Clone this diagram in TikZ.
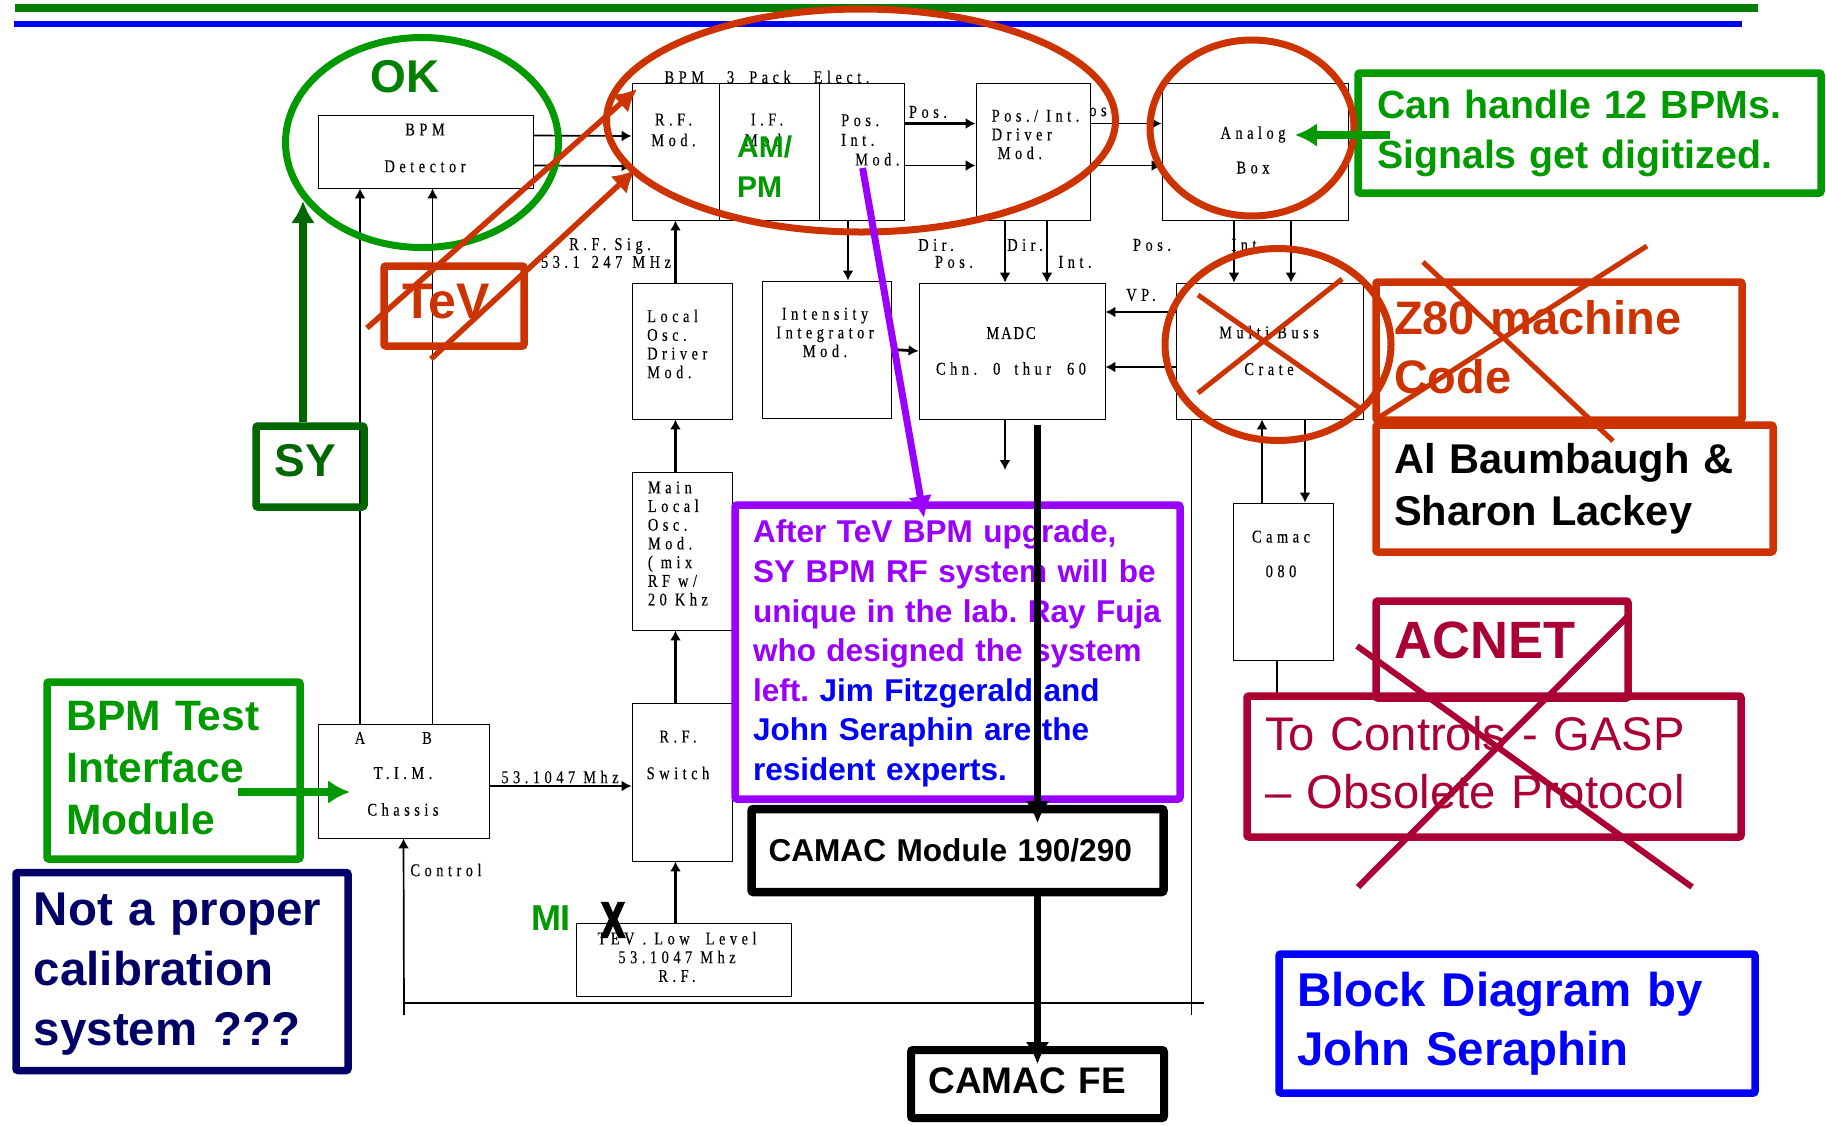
\documentclass[tikz,border=0pt]{standalone}
\usepackage{fontspec}
\usepackage{tikz}
\usetikzlibrary{positioning, shapes.geometric, arrows.meta}
\newfontfamily\notefont{Liberation Sans}
\newfontfamily\narrowfont[FakeStretch=0.7,FakeBold=4]{Liberation Sans Bold}
\newfontfamily\blockfont[FakeStretch=0.8,LetterSpace=25,FakeBold=0.25]{Liberation Serif}
\newcommand{\notesize}[2]{\fontsize{#1}{#2}\notefont\bfseries\selectfont}
\definecolor{okgreen}{HTML}{009900}
\definecolor{sygreen}{HTML}{006600}
\definecolor{topgreen}{HTML}{007F00}
\definecolor{tevred}{HTML}{CC3300}
\definecolor{acnetred}{HTML}{AA0033}
\definecolor{navybox}{HTML}{000066}
\definecolor{purplebox}{HTML}{9900FF}
\definecolor{bluebox}{HTML}{0000FF}

\begin{document}
\begin{tikzpicture}[x=1pt,y=-1pt,
      block/.style 2 args={draw, line width=.9pt, inner sep=0pt, minimum width=#1pt, minimum height=#2pt},
      lbl/.style={inner sep=0pt, align=center, font=\blockfont\fontsize{18}{18.7}\selectfont},
      lblleft/.style={lbl, align=left, anchor=west},
      wire/.style={-{Latex[length=10pt,width=11pt]}, line width=1.7pt},
      heavywire/.style={wire, line width=2.8pt},
      rawline/.style={line width=.9pt},
      note/.style n args={5}{draw=#1, line width=7.5pt, rounded corners=2pt, inner sep=0pt, align=left, minimum width=#2pt, minimum height=#3pt, text width=#4pt, text=#5},
      ring/.style n args={3}{draw=#1, ellipse, line width=7pt, inner sep=0pt, minimum width=#2pt, minimum height=#3pt},
      pointer/.style n args={2}{draw=#1, line width=#2pt, -{Latex[length=22pt,width=24pt]}},
      cross/.style={draw=#1, line width=5pt},
      tag/.style={inner sep=0pt}]
      \useasboundingbox (0,0) rectangle (1826,1125);
      % top rules
      \draw[topgreen, line width=8pt] (15,8)--(1758,8);
      \draw[bluebox, line width=6pt] (14,24)--(1742,24);
      % blocks
      \node[block={215}{73}] (det) at (425.5,151.5) {};
      \node[block={87}{137}] (rfmod) at (675.5,151.5) {};
      \node[block={100}{137}] (ifmod) at (769,151.5) {};
      \node[block={85}{137}] (posmod) at (861.5,151.5) {};
      \node[block={114}{137}] (posdrv) at (1033,151.5) {};
      \node[block={186}{137}] (analog) at (1255,151.5) {};
      \node[block={100}{136}] (localosc) at (682,351) {};
      \node[block={129}{137}] (integ) at (826.5,349.5) {};
      \node[block={186}{136}] (madc) at (1012,351) {};
      \node[block={187}{136}] (multi) at (1269.5,351) {};
      \node[block={100}{157}] (camac) at (1283,581.5) {};
      \node[block={100}{158}] (mainosc) at (682,551) {};
      \node[block={100}{158}] (rfsw) at (682,782) {};
      \node[block={171}{114}] (tim) at (403.5,781) {};
      \node[block={215}{73}] (tev) at (683.5,959.5) {};
      % block texts
      \node[lbl] (dettxt) at (425,148) {BPM\\[18pt]Detector};
      \node[lbl] (packtxt) at (767,77) {BPM\hspace{23pt}3\hspace{15pt}Pack\hspace{23pt}Elect.};
      \node[lbl] (rftxt) at (673.5,130) {R.F.\\[2pt]Mod.};
      \node[lbl] (iftxt) at (767,130) {I.F.\\[2pt]Mod.};
      \node[lblleft] (postxt) at (841,140) {Pos.\\[1pt]Int.\\[1pt]\hspace*{14pt}Mod.};
      \node[lblleft] (drvtxt) at (991.5,134.5) {Pos./ Int.\\Driver\\\hspace*{6pt}Mod.};
      \node[lbl] (analogtxt) at (1253,150) {Analog\\[16pt]Box};
      \node[lblleft] (localtxt) at (647,344) {Local\\Osc.\\Driver\\Mod.};
      \node[lbl] (integtxt) at (825,332.5) {Intensity\\Integrator\\Mod.};
      \node[lbl] (madctxt) at (1011,351) {M\hspace{2pt}A\hspace{2pt}D\hspace{2pt}C\\[17pt]Chn.\hspace{16pt}0\hspace{14pt}thur\hspace{16pt}60};
      \node[lbl] (multitxt) at (1269,350.5) {Multi Buss\\[18pt]Crate};
      \node[lbl] (camactxt) at (1281,554) {Camac\\[16pt]080};
      \node[lblleft] (maintxt) at (647.7,543.5) {Main\\Local\\Osc.\\Mod.\\( mix\\RF w/\\20 Khz};
      \node[lbl] (rfswtxt) at (678,755) {R.F.\\[18pt]Switch};
      \node[lbl] (atxt) at (360,738) {A};
      \node[lbl] (btxt) at (427,738) {B};
      \node[lbl] (timtxt) at (403,791.5) {T.I.M.\\[18pt]Chassis};
      \node[lbl] (tevtxt) at (677,957) {TEV . Low\hspace{16pt}Level\\53.1047\hspace{8pt}Mhz\\R.F.};
      % wire labels
      \node[lbl] (pos1txt) at (928,112) {Pos.};
      \node[lbl] (pos2txt) at (1102,112) {os.};
      \node[lbl] (sigtxt) at (610,246) {R.F. Sig.};
      \node[lbl] (mhztxt) at (606,262) {53.1\hspace{12pt}247\hspace{10pt}MHz};
      \node[lbl] (dir1txt) at (936,245) {Dir.};
      \node[lbl] (pos3txt) at (954,262) {Pos.};
      \node[lbl] (dir2txt) at (1025,245) {Dir.};
      \node[lbl] (int1txt) at (1075,262) {Int.};
      \node[lbl] (pos4txt) at (1152,245) {Pos.};
      \node[lbl] (int2txt) at (1248,245) {Int.};
      \node[lbl] (vptxt) at (1141,295) {VP.};
      \node[lbl] (synthtxt) at (560,777) {53.1047\hspace{8pt}Mhz};
      \node[lbl] (ctrltxt) at (446,870) {Control};
      % wires
      \draw[wire] ([yshift=16pt]det.east)--([yshift=15.5pt]rfmod.west);
      \draw[wire] ([yshift=-14pt]det.east)--([yshift=-14.5pt]rfmod.west);
      \draw[wire] ([xshift=-65.5pt]tim.north -| det.south)--([xshift=-65.5pt]det.south);
      \draw[wire] ([xshift=7pt]tim.north -| det.south)--([xshift=7pt]det.south);
      \draw[heavywire] (localosc.north -| rfmod.south)--(rfmod.south);
      \draw[heavywire] (mainosc.north -| rfmod.south)--(localosc.south -| rfmod.south);
      \draw[heavywire] (rfsw.north -| rfmod.south)--(mainosc.south -| rfmod.south);
      \draw[heavywire] (tev.north -| rfmod.south)--(rfsw.south -| rfmod.south);
      \draw[heavywire] ([yshift=28pt]posmod.east)--([yshift=28pt]posdrv.west);
      \draw[wire] ([yshift=-14pt]posmod.east)--([yshift=-14pt]posdrv.west);
      \draw[wire] ([yshift=28pt]posdrv.east)--([yshift=28pt]analog.west);
      \draw[wire] ([yshift=-14pt]posdrv.east)--([yshift=-14pt]analog.west);
      \draw[heavywire] ([xshift=21.5pt]integ.north |- posmod.south)--([xshift=21.5pt]integ.north);
      \draw[heavywire] (integ.east)--(madc.west);
      \draw[wire] ([xshift=-28pt]posdrv.south)--([xshift=-7pt]madc.north);
      \draw[wire] ([xshift=14pt]posdrv.south)--([xshift=35pt]madc.north);
      \draw[wire] ([xshift=-21pt]analog.south)--([xshift=-35.5pt]multi.north);
      \draw[wire] ([xshift=36pt]analog.south)--([xshift=21.5pt]multi.north);
      \draw[heavywire] ([yshift=39pt]multi.west)--([yshift=39pt]madc.east);
      \draw[wire] ([yshift=-16pt]multi.west)--([yshift=-16pt]madc.east);
      \coordinate (madcout) at (1005,470);
      \draw[wire] ([xshift=-7pt]madc.south)--(madcout);
      \draw[wire] ([xshift=-21pt]camac.north)--([xshift=-7.5pt]multi.south);
      \draw[wire] ([xshift=35.5pt]multi.south)--([xshift=22pt]camac.north);
      \draw[heavywire] ([yshift=-5pt]tim.east)--([yshift=-4pt]rfsw.west);
      \coordinate (ctrlend) at (404,1015);
      \coordinate (ctrlbus) at (404,1003);
      \coordinate (busend) at (1204,1003);
      \coordinate (railtop) at (1191,419);
      \coordinate (railend) at (1191,1015);
      \draw[wire] (ctrlend)--(tim.south);
      \draw[rawline, line width=1.5pt] (ctrlbus)--(busend);
      \draw[rawline] (railtop)--(railend);
      \draw[rawline, line width=1.5pt] (camac.south -| 1277,0)--(1277,695);
      % notes
      \node[note={sygreen}{108}{81}{60}{sygreen}, font=\notesize{46}{46}, align=center, text depth=12pt] (sybox) at (310,466.5) {\hspace*{-10pt}SY};
      \node[note={tevred}{140}{80}{100}{tevred}, font=\notesize{50}{50}, align=center, text depth=9pt] (tevbox) at (454,306) {\hspace*{-16pt}TeV};
      \node[note={okgreen}{253}{177}{214}{okgreen}, font=\notesize{42.5}{52}, text depth=110pt] (testbox) at (173.5,770.5) {BPM Test\\Interface\\Module};
      \node[note={navybox}{332}{198}{296}{navybox}, font=\notesize{47.4}{60}, text depth=124pt] (calbox) at (182,971.5) {\mbox{Not a proper}\\calibration\\system ???};
      \node[note={okgreen}{463}{120}{425}{okgreen}, font=\notesize{39.3}{50}] (canbox) at (1589.5,133) {Can handle 12 BPMs.\\Signals get digitized.};
      \node[note={tevred}{366}{138}{330}{tevred}, font=\notesize{47}{59}, text depth=68pt] (z80box) at (1559,351) {Z80 machine\\Code};
      \node[note={tevred}{397}{127}{361}{black}, font=\notesize{41.6}{52}] (albox) at (1574.5,488.5) {Al Baumbaugh \&\\Sharon Lackey};
      \node[note={acnetred}{252}{97}{215}{acnetred}, font=\notesize{52.5}{52}, text depth=18pt] (acnetbox) at (1502,649.5) {ACNET};
      \node[note={acnetred}{494}{141}{458}{acnetred}, font=\fontsize{47.2}{58}\notefont\selectfont, text depth=67pt] (ctrlbox) at (1494,766.5) {To Controls - GASP\\– Obsolete Protocol};
      \node[note={bluebox}{476}{139}{440}{bluebox}, font=\notesize{47.4}{59}] (seraphbox) at (1517,1023.5) {Block Diagram by\\John Seraphin};
      \node[note={purplebox}{445}{294}{409}{purplebox}, fill=white, font=\notesize{31.5}{39.6}\frenchspacing, text depth=241pt] (upbox) at (957.5,652) {After TeV BPM upgrade,\\SY BPM RF system will be\\\mbox{unique in the lab. Ray Fuja}\\who designed the system\\left. \textcolor{bluebox}{Jim Fitzgerald and}\\\textcolor{bluebox}{John Seraphin are the}\\\textcolor{bluebox}{resident experts.}};
      \node[note={black}{412}{83}{378}{black}, line width=8.5pt, font=\notesize{31.6}{32}] (modbox) at (957.5,850.5) {CAMAC Module 190/290};
      \node[note={black}{253}{68}{218}{black}, line width=8pt, font=\notesize{37}{37}, text depth=7pt] (febox) at (1037.5,1084) {CAMAC FE};
      % free annotation texts
      \node[tag, text=topgreen, font=\notesize{46}{46}] (oktxt) at (405,77) {OK};
      \node[tag, text=okgreen, font=\notesize{30}{40}, align=left, anchor=west] (amtxt) at (737,167) {AM/\\PM};
      \node[tag, text=okgreen, font=\notesize{36}{36}] (mitxt) at (551,918) {MI};
      \node[tag, font=\fontsize{50}{50}\narrowfont\selectfont] (xtxt) at (613,920) {X};
      % rings
      \node[ring={okgreen}{273}{210}] (okring) at (422,142.5) {};
      \node[ring={tevred}{509}{223}] (packring) at (861,120.5) {};
      \node[ring={tevred}{204}{176}] (analogring) at (1252,128) {};
      \node[ring={tevred}{226}{192}] (multiring) at (1278,344.5) {};
      % crosses
      \draw[cross=tevred] (1198,295)--(1361,409);
      \draw[cross=tevred] (1198,393)--(1342,279);
      \draw[cross=tevred] (1423,262)--(1613,441);
      \draw[cross=tevred] (1647,246)--(1378,418);
      \draw[cross=acnetred, line width=6pt] (1357,646)--(1692,887);
      \draw[cross=acnetred, line width=6pt] (1627,617)--(1358,887);
      % pointers
      \coordinate (tevA) at (367,328);
      \coordinate (packA) at (637,89);
      \coordinate (tevB) at (431,359);
      \coordinate (packB) at (635,170);
      \draw[pointer={tevred}{5.5}] (tevA)--(packA);
      \draw[pointer={tevred}{5.5}] (tevB)--(packB);
      \draw[pointer={sygreen}{8}] (sybox.north -| 303,0)--(303,201);
      \coordinate (testtail) at (238,792);
      \draw[pointer={okgreen}{7.5}] (testtail)--(350,792);
      \coordinate (cantail) at (1390,135);
      \draw[pointer={okgreen}{8}] (cantail)--(1295,135);
      \coordinate (ifstart) at (862.6,168);
      \coordinate (ifend) at (924,518);
      \draw[pointer={purplebox}{7}] (ifstart)--(ifend);
      \coordinate (madcdrop) at (1037.5,425);
      \coordinate (modtip) at (1037.5,823);
      \coordinate (fetip) at (1037.5,1064);
      \draw[pointer={black}{7}] (madcdrop)--(modtip);
      \draw[pointer={black}{7}] (modbox.south -| madcdrop)--(fetip);
    \end{tikzpicture}
\end{document}
